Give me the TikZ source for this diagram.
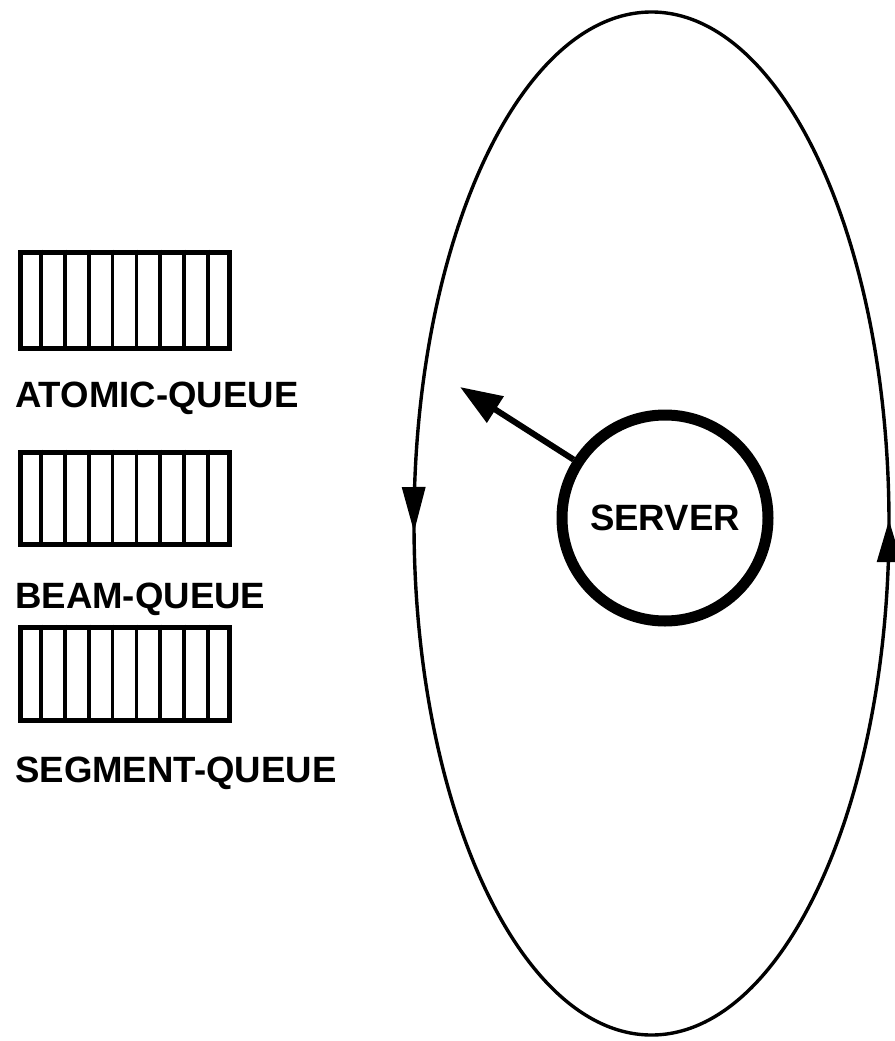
\documentclass[tikz,border=0pt]{standalone}
\usepackage{fontspec}
\setmainfont{Liberation Sans}
\usetikzlibrary{arrows.meta,calc,decorations.markings}

\tikzset{
  qbox/.style={draw, line width=5pt, minimum width=209pt, inner sep=0pt},
  qdiv/.style={line width=3.6pt},
  qlabel/.style={anchor=base west, inner sep=0pt, font=\fontsize{36.6}{40}\selectfont\bfseries},
  loop/.style={line width=3.4pt},
  loopmarks/.style={postaction={decorate, decoration={markings,
      mark=at position 0.4965 with {\arrowreversed{Triangle[length=45pt,width=23pt]}},
      mark=at position 0.9986 with {\arrowreversed{Triangle[length=42pt,width=24pt]}}}}},
  servernode/.style={circle, draw, line width=11pt, minimum size=206pt, inner sep=0pt,
      font=\fontsize{36.6}{40}\selectfont\bfseries},
  dispatch/.style={line width=6pt, -{Triangle[length=42pt,width=30pt]}},
}

\begin{document}
\begin{tikzpicture}[x=1pt, y=-1pt]
  \useasboundingbox (0,0) rectangle (894,1041);

  % queues with nine slots each
  \node[qbox, minimum height=96pt] (q1) at (124.5,300) {};
  \node[qbox, minimum height=92pt] (q2) at (124.5,498) {};
  \node[qbox, minimum height=93pt] (q3) at (124.5,673.5) {};
  \foreach \q in {q1,q2,q3}
    \foreach \i in {1,...,8}
      \draw[qdiv] ($(\q.north west)!\i/9!(\q.north east)$) -- ($(\q.south west)!\i/9!(\q.south east)$);

  \node[qlabel] (l1) at (15,407) {ATOMIC-QUEUE};
  \node[qlabel] (l2) at (15,608) {BEAM-QUEUE};
  \node[qlabel] (l3) at (15,782) {SEGMENT-QUEUE};

  % service loop
  \draw[loop, loopmarks] (651.5,523.5) ellipse [x radius=237.5, y radius=511.5];

  % server and its dispatch arrow
  \node[servernode] (srv) at (665,518) {SERVER};
  \coordinate (tgt) at (460,387);
  \draw[dispatch] (srv) -- (tgt);
\end{tikzpicture}
\end{document}
